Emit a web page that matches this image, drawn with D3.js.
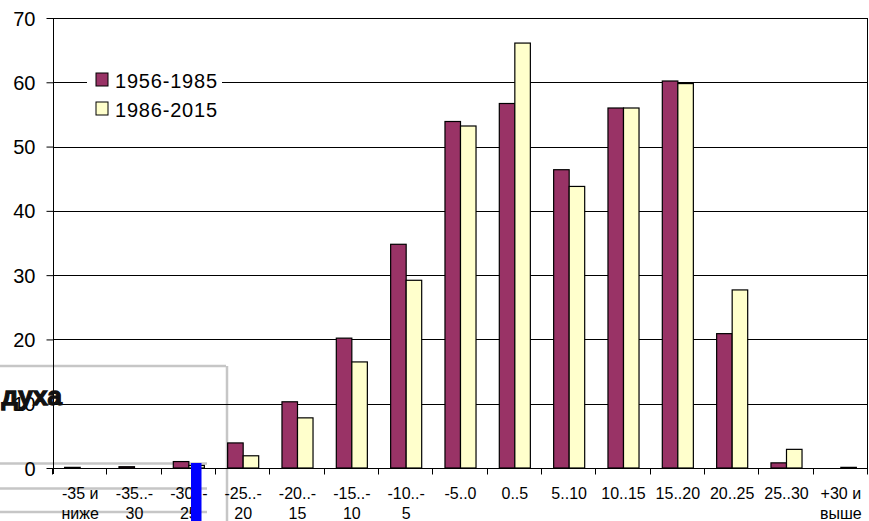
<!DOCTYPE html>
<html>
<head>
<meta charset="utf-8">
<script src="https://cdn.jsdelivr.net/npm/d3@7/dist/d3.min.js"></script>
<style>
  html, body { margin: 0; padding: 0; background: #fff; }
  svg { display: block; font-family: "Liberation Sans", Arial, sans-serif; }
  .frag { font-weight: 700; font-family: "Liberation Sans", "DejaVu Sans", sans-serif; }
</style>
</head>
<body>
<svg id="chart" width="869" height="521"></svg>
<script>
// Temperature ranges (°C), two lines per label
const categories = [
  ["-35 и", "ниже"], ["-35..-", "30"], ["-30..-", "25"], ["-25..-", "20"],
  ["-20..-", "15"], ["-15..-", "10"], ["-10..-", "5"], ["-5..0", ""],
  ["0..5", ""], ["5..10", ""], ["10..15", ""], ["15..20", ""],
  ["20..25", ""], ["25..30", ""], ["+30 и", "выше"]
];
const seriesNames = ["1956-1985", "1986-2015"];
const values1956 = [0.1, 0.2, 1.0, 3.9, 10.3, 20.2, 34.8, 53.9, 56.7, 46.4, 56.0, 60.2, 20.9, 0.8, 0];
const values1986 = [0, 0, 0.4, 1.9, 7.8, 16.5, 29.2, 53.2, 66.1, 43.8, 56.0, 59.8, 27.7, 2.9, 0.1];
const yTicks = [0, 10, 20, 30, 40, 50, 60, 70];
const colors = ["#993366", "#FFFFCC"];

const svg = d3.select("#chart");
const plotLeft = 53, plotRight = 868, plotTop = 18, plotBottom = 468;

const x = d3.scaleBand().domain(d3.range(categories.length)).range([plotLeft, plotRight]).padding(0);
const inner = d3.scaleBand().domain(seriesNames).range([0, x.bandwidth()])
  .paddingInner(0).paddingOuter(0.75);
const y = d3.scaleLinear().domain([0, 70]).range([plotBottom, plotTop]);

// Light grey frame of a neighbouring sheet object
const frame = svg.append("g").attr("stroke", "#c6c6c6").attr("stroke-width", 2.5).attr("fill", "none");
frame.append("line").attr("x1", 0).attr("x2", 226).attr("y1", 366).attr("y2", 366);
frame.append("line").attr("x1", 227).attr("x2", 227).attr("y1", 366).attr("y2", 521);
[463.5, 488.5, 512].forEach(yy =>
  frame.append("line").attr("x1", 0).attr("x2", 207).attr("y1", yy).attr("y2", yy));

// Gridlines
svg.append("g").selectAll("line").data(yTicks.filter(d => d > 0)).join("line")
  .attr("x1", plotLeft).attr("x2", plotRight)
  .attr("y1", d => Math.round(y(d)) + 0.5).attr("y2", d => Math.round(y(d)) + 0.5)
  .attr("stroke", "#000").attr("stroke-width", 1);
// Right border
svg.append("line").attr("x1", plotRight - 0.5).attr("x2", plotRight - 0.5)
  .attr("y1", plotTop).attr("y2", plotBottom).attr("stroke", "#000");

// Bars
const groups = svg.append("g").selectAll("g").data(categories.map((c, i) => i)).join("g")
  .attr("transform", i => `translate(${x(i)},0)`);
groups.selectAll("rect")
  .data(i => [
    { s: seriesNames[0], v: values1956[i], c: colors[0] },
    { s: seriesNames[1], v: values1986[i], c: colors[1] }
  ])
  .join("rect")
  .attr("x", d => inner(d.s))
  .attr("width", inner.bandwidth())
  .attr("y", d => y(d.v))
  .attr("height", d => Math.max(0, y(0) - y(d.v)))
  .attr("fill", d => d.c)
  .attr("stroke", "#000")
  .attr("stroke-width", 1.2);

// Y axis
const yAxis = svg.append("g").attr("transform", `translate(${plotLeft + 0.5},0)`)
  .call(d3.axisLeft(y).tickValues(yTicks).tickSize(7).tickPadding(11).tickSizeOuter(0));
yAxis.select(".domain").attr("stroke", "#000").attr("d", `M0,${plotTop}V${plotBottom + 6}`);
yAxis.selectAll("text").attr("font-size", 20).attr("fill", "#000")
  .attr("font-family", "Liberation Sans, Arial, sans-serif").attr("dy", "0.35em");
yAxis.selectAll("line").attr("stroke", "#000");

// X axis
const xAxis = svg.append("g").attr("transform", `translate(0,${plotBottom + 0.5})`);
xAxis.append("line").attr("x1", plotLeft).attr("x2", plotRight).attr("stroke", "#000");
xAxis.selectAll("line.tick").data(d3.range(categories.length + 1)).join("line")
  .attr("class", "tick")
  .attr("x1", i => Math.round(plotLeft + i * x.step()) - 0.5)
  .attr("x2", i => Math.round(plotLeft + i * x.step()) - 0.5)
  .attr("y1", 0).attr("y2", 6).attr("stroke", "#000");
const lab = svg.append("g").attr("font-size", 16).attr("text-anchor", "middle").attr("fill", "#000");
categories.forEach((c, i) => {
  const cx = x(i) + x.bandwidth() / 2;
  lab.append("text").attr("x", cx).attr("y", 498.5).text(c[0]);
  if (c[1]) lab.append("text").attr("x", cx).attr("y", 519).text(c[1]);
});

// Legend
const legend = svg.append("g");
legend.append("rect").attr("x", 87).attr("y", 66).attr("width", 135).attr("height", 56).attr("fill", "#fff");
seriesNames.forEach((s, i) => {
  const ly = 73 + i * 29;
  legend.append("rect").attr("x", 96).attr("y", ly).attr("width", 12).attr("height", 13)
    .attr("fill", colors[i]).attr("stroke", "#000").attr("stroke-width", 1);
  legend.append("text").attr("x", 115).attr("y", ly + 14.5).attr("font-size", 20)
    .attr("textLength", 102).text(s);
});

// Overlapping title fragment and selection marker
svg.append("text").attr("class", "frag").attr("x", 62).attr("y", 405).attr("text-anchor", "end")
  .attr("font-size", 26).attr("fill", "#111")
  .attr("stroke", "#111").attr("stroke-width", 1.3).attr("paint-order", "stroke")
  .text("духа");
svg.append("rect").attr("x", 191).attr("y", 463).attr("width", 10.5).attr("height", 60)
  .attr("fill", "#0000ff");
</script>
</body>
</html>
